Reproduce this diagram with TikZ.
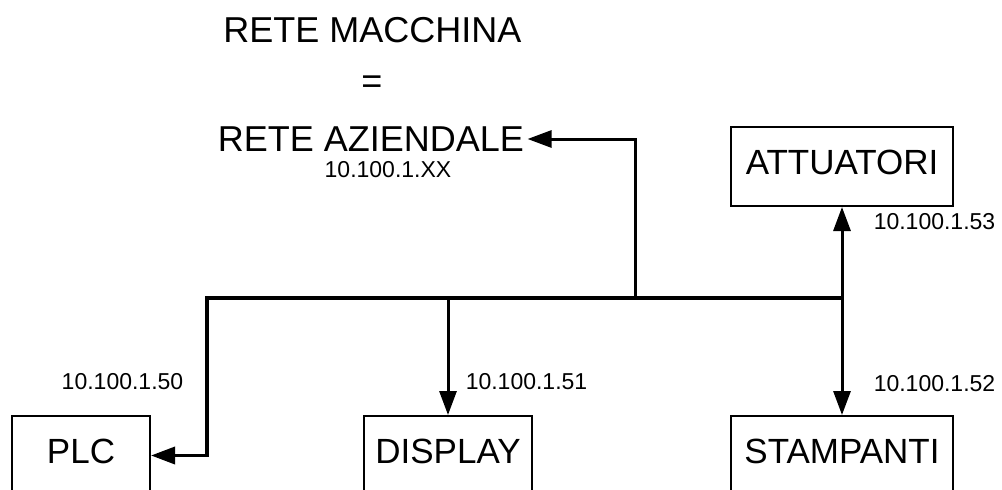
\documentclass[tikz,border=0pt]{standalone}
\usepackage{fontspec}
\setmainfont{Liberation Sans}
\usetikzlibrary{arrows.meta,positioning,calc}
\tikzset{
  box/.style={draw,line width=2pt,minimum height=79pt,inner sep=0pt,
    text height=25pt,text depth=9pt,font=\fontsize{35}{40}\selectfont},
  big/.style={font=\fontsize{36}{42}\selectfont},
  ip/.style={font=\fontsize{23}{27}\selectfont,inner sep=0pt},
  link/.style={line width=3pt,->},
}

\begin{document}
\begin{tikzpicture}[x=1pt,y=-1pt,>={Triangle[length=24pt,width=17pt]}]
  \useasboundingbox (0,0) rectangle (1002,490);
  \clip (0,0) rectangle (1002,490);
  \node[big] (macchina) at (372.5,30) {RETE MACCHINA};
  \node[big] (uguale) at (372,85) {=};
  \node[big] (aziendale) at (371,139) {RETE AZIENDALE};
  \node[ip] (ipxx) at (388,170) {10.100.1.XX};
  \node[box,minimum width=138pt] (plc) at (81,455.5) {PLC};
  \node[box,minimum width=168pt] (display) at (448,455.5) {DISPLAY};
  \node[box,minimum width=222pt] (stampanti) at (842,455.5) {STAMPANTI};
  \node[box,minimum width=222pt] (attuatori) at (842,166.5) {ATTUATORI};
  \foreach \n/\x/\y in {50/122.5/382,51/526.5/382,52/934.5/384,53/934.5/222}
    \node[ip] (ip\n) at (\x,\y) {10.100.1.\n};
  \coordinate (jl) at (207,298);
  \coordinate (jm) at (635,298);
  \coordinate (jr) at (842,298);
  \draw[link,line width=3.5pt] (jr) -- (jl) |- (plc.east);
  \draw[link] (display.north |- jl) -- (display.north);
  \draw[link] (jm) |- (aziendale.east);
  \draw[link,<->] (attuatori.south) -- (stampanti.north);
\end{tikzpicture}
\end{document}
